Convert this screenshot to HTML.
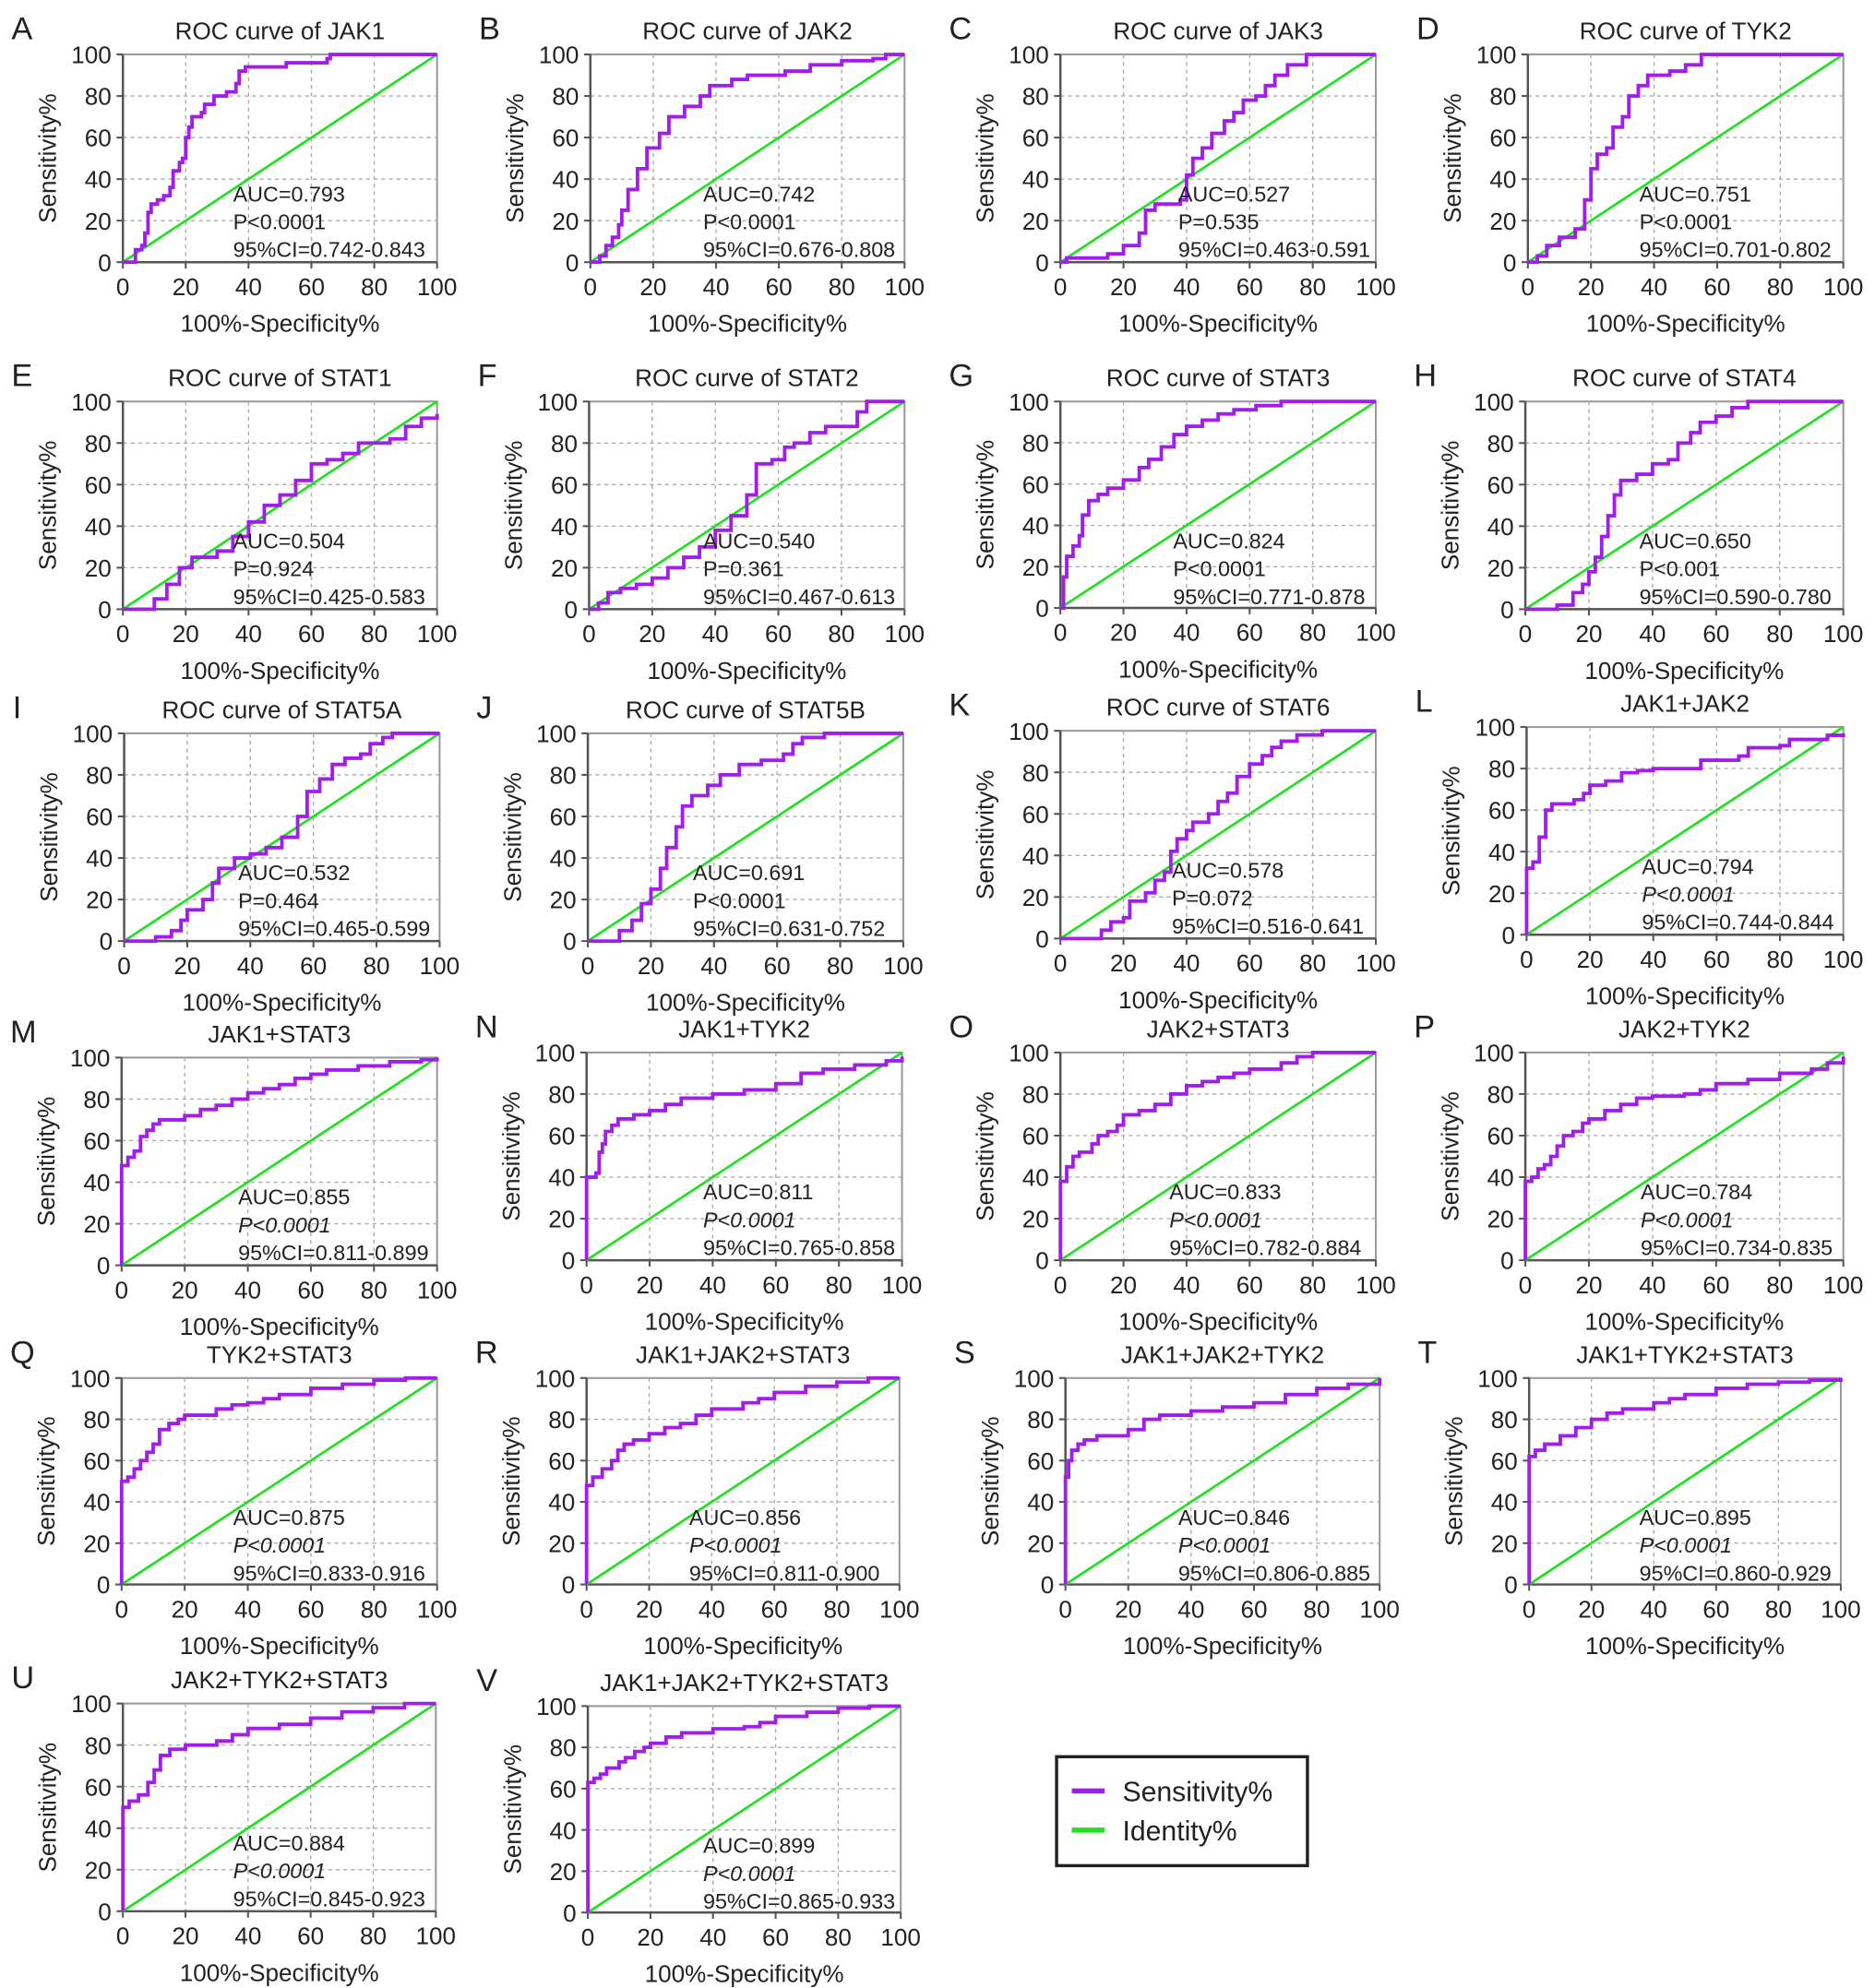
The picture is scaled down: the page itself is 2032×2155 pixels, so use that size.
<!DOCTYPE html>
<html><head><meta charset="utf-8">
<style>
html,body{margin:0;padding:0;background:#fff;}
svg{display:block;font-family:"Liberation Sans",Arial,sans-serif;}
</style></head>
<body>
<svg id="fig" width="2032" height="2155" viewBox="0 0 1480 1569.6" preserveAspectRatio="none" xmlns="http://www.w3.org/2000/svg">
<g>
<rect x="834" y="1387" width="198" height="86" fill="#fff" stroke="#222" stroke-width="2.5"/>
<line x1="846" y1="1414" x2="872" y2="1414" stroke="#a21cf0" stroke-width="4"/>
<text x="886" y="1422" font-size="22" fill="#222">Sensitivity%</text>
<line x1="846" y1="1445" x2="872" y2="1445" stroke="#22e022" stroke-width="4"/>
<text x="886" y="1453" font-size="22" fill="#222">Identity%</text>
</g>
</svg>
<script>
const panelLetters=["A","B","C","D","E","F","G","H","I","J","K","L","M","N","O","P","Q","R","S","T","U","V"];
const panelTitles=["ROC curve of JAK1","ROC curve of JAK2","ROC curve of JAK3","ROC curve of TYK2","ROC curve of STAT1","ROC curve of STAT2","ROC curve of STAT3","ROC curve of STAT4","ROC curve of STAT5A","ROC curve of STAT5B","ROC curve of STAT6","JAK1+JAK2","JAK1+STAT3","JAK1+TYK2","JAK2+STAT3","JAK2+TYK2","TYK2+STAT3","JAK1+JAK2+STAT3","JAK1+JAK2+TYK2","JAK1+TYK2+STAT3","JAK2+TYK2+STAT3","JAK1+JAK2+TYK2+STAT3"];
const aucValues=["0.793","0.742","0.527","0.751","0.504","0.540","0.824","0.650","0.532","0.691","0.578","0.794","0.855","0.811","0.833","0.784","0.875","0.856","0.846","0.895","0.884","0.899"];
const pValues=["P<0.0001","P<0.0001","P=0.535","P<0.0001","P=0.924","P=0.361","P<0.0001","P<0.001","P=0.464","P<0.0001","P=0.072","P<0.0001","P<0.0001","P<0.0001","P<0.0001","P<0.0001","P<0.0001","P<0.0001","P<0.0001","P<0.0001","P<0.0001","P<0.0001"];
const ciValues=["0.742-0.843","0.676-0.808","0.463-0.591","0.701-0.802","0.425-0.583","0.467-0.613","0.771-0.878","0.590-0.780","0.465-0.599","0.631-0.752","0.516-0.641","0.744-0.844","0.811-0.899","0.765-0.858","0.782-0.884","0.734-0.835","0.833-0.916","0.811-0.900","0.806-0.885","0.860-0.929","0.845-0.923","0.865-0.933"];
const tickLabels=["0","20","40","60","80","100"];
const tickValues=[0,20,40,60,80,100];
// ROC curve points [1-specificity %, sensitivity %]
const curveA=[[0,0],[4,0],[4,6],[6,8],[7,14],[8,18],[8,24],[9,28],[11,30],[13,32],[15,36],[16,44],[18,48],[19,50],[20,60],[21,65],[22,70],[25,72],[26,76],[29,80],[33,82],[36,86],[37,92],[39,94],[52,96],[65,98],[66,100],[100,100]];
const curveB=[[0,0],[3,3],[5,8],[7,12],[9,18],[10,25],[12,35],[15,45],[18,55],[22,62],[25,70],[30,75],[35,80],[38,85],[45,88],[50,90],[58,90],[62,92],[70,95],[80,97],[90,98],[94,100],[100,100]];
const curveC=[[0,0],[2,2],[15,4],[20,8],[25,14],[27,25],[30,28],[35,28],[38,30],[40,42],[42,50],[45,55],[48,62],[52,68],[55,72],[58,78],[62,80],[65,85],[68,90],[72,95],[78,100],[100,100]];
const curveD=[[0,0],[3,3],[6,8],[10,12],[15,16],[18,30],[20,45],[22,52],[25,55],[27,65],[30,70],[32,80],[35,85],[38,90],[45,92],[50,95],[55,100],[100,100]];
const curveE=[[0,0],[8,0],[10,5],[14,12],[18,20],[22,25],[30,28],[35,35],[40,42],[45,50],[50,55],[55,62],[60,70],[65,72],[70,75],[75,80],[85,82],[90,88],[95,92],[100,94]];
const curveF=[[0,0],[3,3],[6,8],[10,10],[15,12],[20,15],[25,20],[30,25],[35,30],[40,38],[45,45],[50,55],[53,70],[58,72],[62,78],[65,80],[70,85],[75,88],[80,88],[85,95],[88,100],[100,100]];
const curveG=[[0,0],[1,15],[2,25],[4,30],[6,35],[7,45],[9,52],[12,55],[15,58],[20,62],[25,68],[28,72],[32,78],[36,84],[40,88],[45,91],[50,94],[55,96],[62,98],[70,100],[100,100]];
const curveH=[[0,0],[8,0],[10,2],[15,8],[18,12],[20,18],[22,25],[24,35],[26,45],[28,55],[30,62],[35,65],[40,70],[45,72],[48,80],[52,85],[55,90],[60,93],[65,97],[70,100],[100,100]];
const curveI=[[0,0],[10,2],[15,5],[18,10],[20,15],[25,20],[28,28],[30,35],[35,40],[40,42],[45,45],[50,50],[55,60],[58,72],[62,78],[66,85],[70,88],[75,90],[78,95],[82,98],[85,100],[100,100]];
const curveJ=[[0,0],[8,0],[10,5],[14,10],[17,18],[20,25],[23,35],[25,45],[28,55],[30,65],[33,70],[38,75],[42,80],[48,85],[55,87],[62,90],[65,95],[68,98],[75,100],[100,100]];
const curveK=[[0,0],[10,0],[13,4],[16,8],[20,10],[22,18],[27,22],[30,28],[33,32],[35,42],[37,48],[40,52],[42,56],[47,60],[50,66],[53,70],[56,78],[60,84],[64,88],[67,92],[70,95],[75,98],[83,100],[100,100]];
const curveL=[[0,0],[0,32],[2,35],[4,47],[6,60],[8,63],[12,63],[15,65],[18,68],[20,72],[25,74],[30,78],[35,79],[40,80],[50,80],[55,84],[60,84],[67,86],[70,90],[80,91],[83,94],[95,96],[100,97]];
const curveM=[[0,0],[0,48],[2,52],[4,55],[6,62],[8,65],[10,68],[12,70],[20,72],[25,75],[30,77],[35,80],[40,83],[45,85],[50,87],[55,90],[60,92],[65,94],[75,96],[85,98],[95,99],[100,100]];
const curveN=[[0,0],[0,40],[3,42],[4,52],[5,56],[6,62],[8,65],[10,68],[15,70],[20,72],[25,75],[30,78],[40,80],[50,82],[60,85],[65,85],[68,90],[75,92],[85,94],[95,96],[100,98]];
const curveO=[[0,0],[0,38],[2,45],[4,50],[6,52],[10,56],[12,60],[15,62],[18,65],[20,70],[25,72],[30,75],[35,80],[40,84],[45,86],[50,88],[55,90],[60,92],[70,95],[75,98],[80,100],[100,100]];
const curveP=[[0,0],[0,38],[2,40],[4,44],[6,46],[8,50],[10,55],[12,60],[15,62],[18,66],[20,68],[25,72],[30,75],[35,78],[40,79],[50,80],[55,82],[60,85],[70,87],[80,90],[90,92],[95,95],[100,98]];
const curveQ=[[0,0],[0,50],[2,52],[4,56],[6,60],[8,64],[10,68],[12,75],[15,78],[18,80],[20,82],[30,85],[35,87],[40,88],[45,90],[50,92],[60,95],[70,97],[80,99],[90,100],[100,100]];
const curveR=[[0,0],[0,48],[2,52],[5,56],[8,60],[10,65],[12,68],[15,70],[20,73],[25,76],[30,78],[35,82],[40,85],[50,88],[55,90],[60,93],[70,96],[80,98],[90,100],[100,100]];
const curveS=[[0,0],[0,52],[1,60],[2,65],[4,68],[6,70],[10,72],[20,75],[25,80],[30,82],[40,84],[50,86],[60,88],[70,92],[80,95],[90,97],[100,100]];
const curveT=[[0,0],[0,62],[2,65],[5,68],[10,72],[15,76],[20,80],[25,83],[30,85],[40,88],[45,90],[50,92],[60,95],[70,97],[80,98],[90,99],[100,100]];
const curveU=[[0,0],[0,50],[2,53],[5,56],[8,62],[10,68],[12,75],[15,78],[20,80],[30,82],[35,85],[40,88],[50,90],[60,93],[70,96],[80,98],[90,100],[100,100]];
const curveV=[[0,0],[0,63],[2,65],[4,67],[6,70],[10,73],[12,75],[15,78],[18,80],[20,82],[25,85],[30,87],[40,89],[50,90],[55,92],[60,95],[70,97],[80,99],[90,100],[100,100]];
const curves=[curveA,curveB,curveC,curveD,curveE,curveF,curveG,curveH,curveI,curveJ,curveK,curveL,curveM,curveN,curveO,curveP,curveQ,curveR,curveS,curveT,curveU,curveV];

// layout (left, right, top, bottom, text offset)
const boxes=[[97,345,43,207,87],[466,714,43,207,89],[837,1086,43,207,93],[1206,1455,43,207,88],
[97,345,317,481,87],[465,714,317,481,90],[837,1086,317,480,89],[1204,1455,317,481,90],
[98,347,579,743,90],[464,713,579,743,83],[837,1086,577,741,88],[1205,1455,574,738,91],
[96,345,835,999,92],[463,712,831,995,92],[837,1086,831,995,86],[1204,1455,831,995,91],
[96,345,1088,1251,88],[463,710,1088,1251,81],[841,1089,1088,1251,89],[1207,1453,1088,1251,87],
[97,344,1345,1509,87],[464,711,1347,1510,91]];

const NS="http://www.w3.org/2000/svg";
const svg=document.getElementById('fig');
function mk(tag,attrs,parent){const e=document.createElementNS(NS,tag);for(const k in attrs)e.setAttribute(k,attrs[k]);parent.appendChild(e);return e;}
function txt(s,attrs,parent){const e=mk('text',attrs,parent);e.textContent=s;return e;}

panelLetters.forEach((L,i)=>{
  const [l,r,t,b,to]=boxes[i];
  const sx=v=>l+(r-l)*v/100, sy=v=>b-(b-t)*v/100;
  const g=mk('g',{},svg);
  
  
  const lt=txt(L,{x:l-88,y:t-12,'font-size':25,fill:'#222'},g);
  
  
  const tt=txt(panelTitles[i],{x:(l+r)/2,y:t-12,'font-size':19,'text-anchor':'middle',fill:'#222'},g);
  
  
  mk('rect',{x:l,y:t,width:r-l,height:b-t,fill:'#fff',stroke:'#999','stroke-width':1.5},g);
  tickValues.forEach((v,k)=>{
    if(v>0&&v<100){
      mk('line',{x1:sx(v),x2:sx(v),y1:t,y2:b,stroke:'#aaa','stroke-width':1,'stroke-dasharray':'3,3'},g);
      mk('line',{x1:l,x2:r,y1:sy(v),y2:sy(v),stroke:'#aaa','stroke-width':1,'stroke-dasharray':'3,3'},g);
    }
    mk('line',{x1:l-5,x2:l,y1:sy(v),y2:sy(v),stroke:'#555','stroke-width':1.5},g);
    mk('line',{x1:sx(v),x2:sx(v),y1:b,y2:b+5,stroke:'#555','stroke-width':1.5},g);
    const yl=txt(tickLabels[k],{x:l-9,y:sy(v)+7,'font-size':19,'text-anchor':'end',fill:'#222'},g);
    
    
    const xl=txt(tickLabels[k],{x:sx(v),y:b+26,'font-size':19,'text-anchor':'middle',fill:'#222'},g);
    
    
  });
  mk('line',{x1:l,x2:l,y1:t,y2:b,stroke:'#555','stroke-width':1.8},g);
  mk('line',{x1:l,x2:r,y1:b,y2:b,stroke:'#555','stroke-width':1.8},g);
  const xt=txt('100%-Specificity%',{x:(l+r)/2,y:b+55,'font-size':19,'text-anchor':'middle',fill:'#222'},g);
  
  
  const cy=(t+b)/2;
  const yt=txt('Sensitivity%',{x:l-53,y:cy,'font-size':19,'text-anchor':'middle',fill:'#222',transform:`rotate(-90 ${l-53} ${cy})`},g);
  
  
  const id=mk('line',{x1:sx(0),y1:sy(0),x2:sx(100),y2:sy(100),stroke:'#22e022','stroke-width':2},g);
  
  
  const pts=curves[i];let d='';
  pts.forEach((p,k)=>{
    if(k===0)d+=`M${sx(p[0])},${sy(p[1])}`;
    else d+=`L${sx(p[0])},${sy(pts[k-1][1])}L${sx(p[0])},${sy(p[1])}`;
  });
  const cp=mk('path',{d:d,fill:'none',stroke:'#a21cf0','stroke-width':2.8},g);
  
  
  const tx=l+to;
  const a1=txt('AUC='+aucValues[i],{x:tx,y:t+116,'font-size':17,fill:'#222'},g);
  
  
  const a2=txt(pValues[i],{x:tx,y:t+138,'font-size':17,fill:'#222','font-style':i>=11?'italic':'normal'},g);
  
  
  const a3=txt('95%CI='+ciValues[i],{x:tx,y:t+160,'font-size':17,fill:'#222'},g);
  
  
});
</script>
</body></html>
